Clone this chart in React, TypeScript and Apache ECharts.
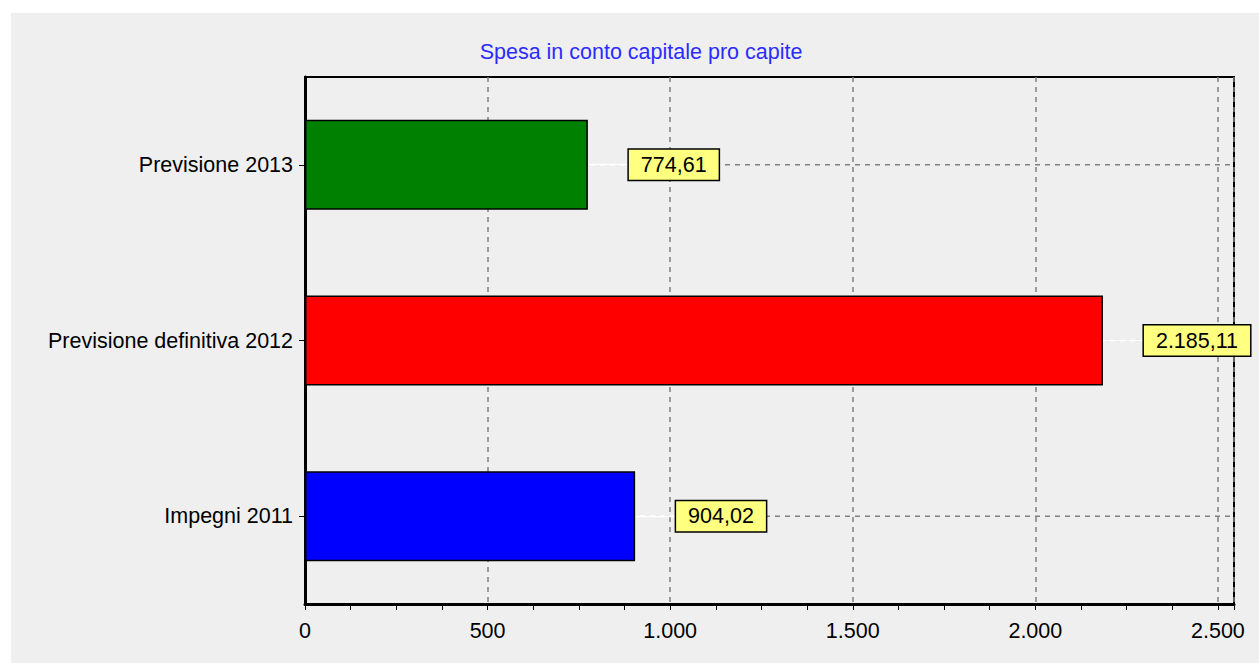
import React, { useEffect, useRef } from "react";
import * as echarts from "echarts";

const title = "Spesa in conto capitale pro capite";
const categories = ["Impegni 2011", "Previsione definitiva 2012", "Previsione 2013"];
const values = [904.02, 2185.11, 774.61];
const colors = ["#0000ff", "#ff0000", "#008000"];
const xTicks = [0, 500, 1000, 1500, 2000, 2500];

const FONT = "'Liberation Sans', Arial, sans-serif";
const FS = 21.5;
const LABEL_GAP = 41;

function fmtNum(v: number, decimals: number) {
  const fixed = v.toFixed(decimals);
  const [intPart, decPart] = fixed.split(".");
  const withDots = intPart.replace(/\B(?=(\d{3})+(?!\d))/g, ".");
  return decPart ? withDots + "," + decPart : withDots;
}

export default function App() {
  const ref = useRef<HTMLDivElement>(null);
  useEffect(() => {
    if (!ref.current) return;
    const chart = echarts.init(ref.current, null, { renderer: "svg" });
    chart.setOption({
      animation: false,
      backgroundColor: "#ffffff",
      graphic: [
        {
          type: "rect",
          z: -10,
          silent: true,
          shape: { x: 11, y: 13, width: 1259, height: 663 },
          style: { fill: "#efefef" },
        },
      ],
      title: {
        text: title,
        left: 636,
        top: 36,
        textAlign: "center",
        textStyle: { color: "#2b2bff", fontFamily: FONT, fontSize: FS, fontWeight: "normal" },
      },
      grid: {
        left: 305,
        right: 25,
        top: 77,
        bottom: 59,
        show: true,
        borderColor: "#000",
        borderWidth: 2,
        backgroundColor: "transparent",
      },
      xAxis: {
        type: "value",
        min: xTicks[0],
        max: 2544,
        interval: xTicks[1] - xTicks[0],
        axisLine: { show: true, lineStyle: { color: "#000", width: 3 } },
        axisTick: { show: true, length: 6, lineStyle: { color: "#000", width: 1 } },
        minorTick: { show: true, splitNumber: 4, length: 6, lineStyle: { color: "#000", width: 1 } },
        splitLine: { show: true, lineStyle: { color: "#808080", type: [5, 5], width: 1.5 } },
        axisLabel: {
          color: "#000",
          fontFamily: FONT,
          fontSize: FS,
          margin: 16,
          showMaxLabel: false,
          formatter: (v: number) => fmtNum(v, 0),
        },
      },
      yAxis: {
        type: "category",
        data: categories,
        axisLine: { show: true, lineStyle: { color: "#000", width: 3 } },
        axisTick: { show: true, alignWithLabel: true, length: 6, lineStyle: { color: "#000" } },
        splitLine: { show: false },
        axisLabel: { color: "#000", fontFamily: FONT, fontSize: FS, margin: 12 },
      },
      series: [
        {
          type: "custom",
          z: 1,
          silent: true,
          data: values.map((v, i) => [v, i]),
          renderItem: (params: any, api: any) => {
            const v = api.value(0);
            const c = api.value(1);
            const start = api.coord([0, c]);
            const end = api.coord([v, c]);
            const right = params.coordSys.x + params.coordSys.width;
            return {
              type: "group",
              children: [
                {
                  type: "line",
                  shape: { x1: start[0], y1: start[1], x2: right, y2: start[1] },
                  style: { stroke: "#808080", lineWidth: 1.5, lineDash: [5, 5] },
                },
                {
                  type: "line",
                  shape: { x1: end[0], y1: end[1], x2: end[0] + LABEL_GAP + 4, y2: end[1] },
                  style: { stroke: "#ffffff", lineWidth: 2 },
                },
              ],
            };
          },
        },
        {
          type: "bar",
          z: 2,
          barWidth: 90,
          data: values.map((v, i) => ({
            value: v,
            itemStyle: { color: colors[i], borderColor: "#000", borderWidth: 1.5 },
          })),
          label: {
            show: true,
            position: "right",
            distance: LABEL_GAP,
            color: "#000",
            fontFamily: FONT,
            fontSize: FS,
            lineHeight: 22,
            backgroundColor: "#ffff80",
            borderColor: "#000",
            borderWidth: 1.5,
            padding: [4, 12, 4, 12],
            formatter: (p: any) => fmtNum(p.value, 2),
          },
        },
      ],
    });
    return () => chart.dispose();
  }, []);
  return (
    <div
      ref={ref}
      style={{ position: "fixed", left: 0, top: 0, width: 1259, height: 663 }}
    />
  );
}
